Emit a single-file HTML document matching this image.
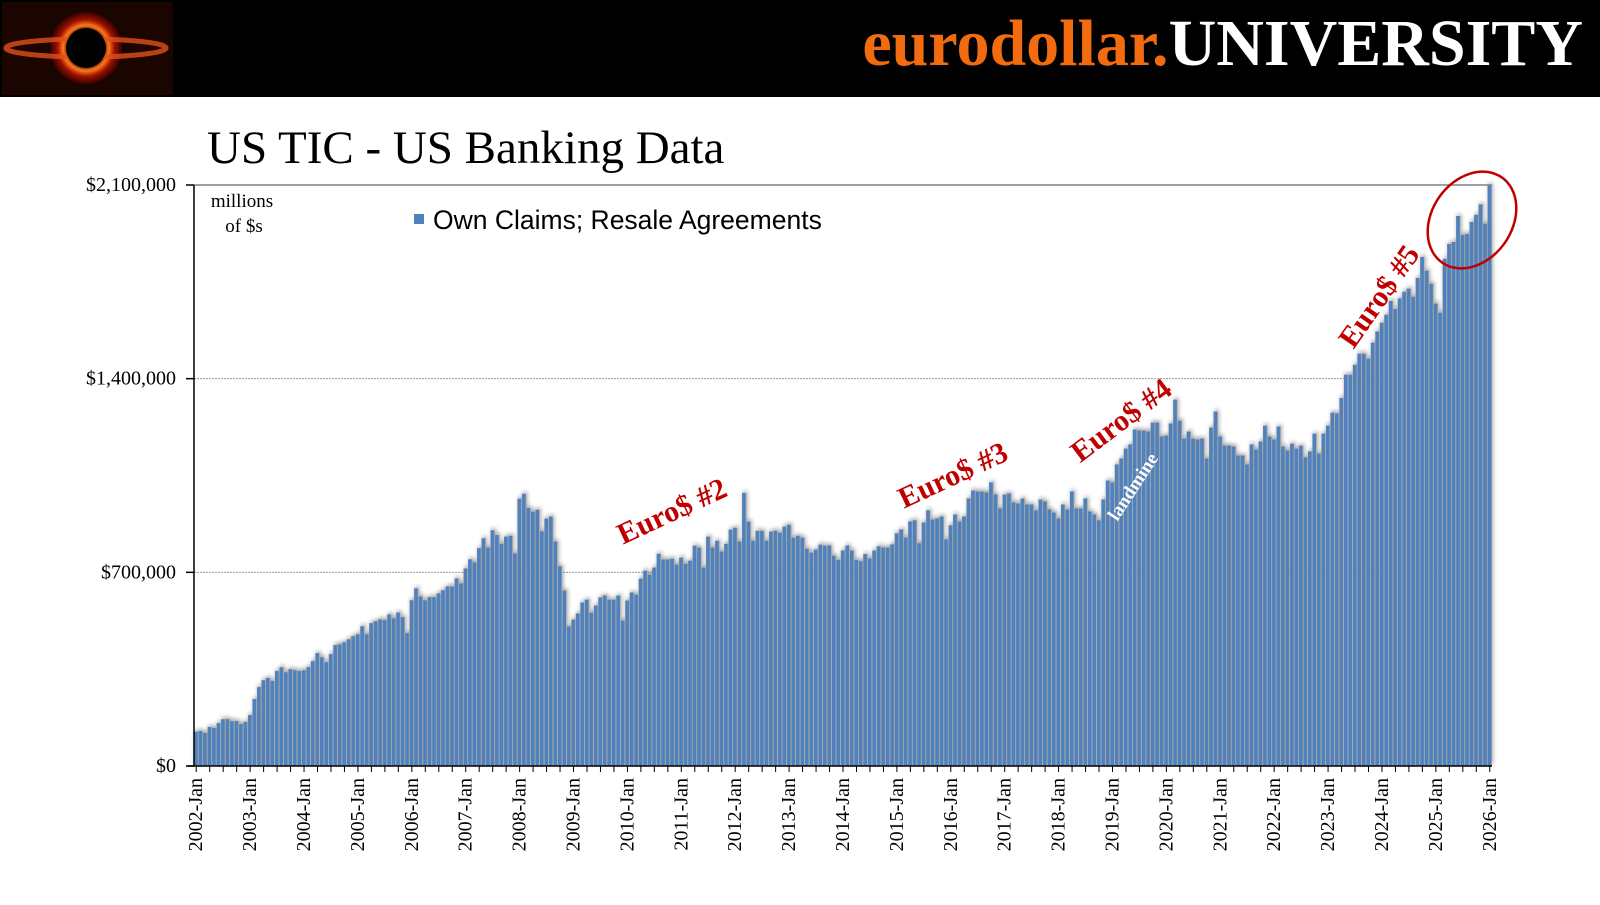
<!DOCTYPE html>
<html><head><meta charset="utf-8"><style>
body{margin:0;width:1600px;height:900px;background:#fff;overflow:hidden;font-family:"Liberation Serif",serif}
</style></head><body>
<svg width="1600" height="900" xmlns="http://www.w3.org/2000/svg">
<defs>
<radialGradient id="lg" cx="50%" cy="50%" r="50%">
<stop offset="0" stop-color="#000"/><stop offset="0.45" stop-color="#200"/><stop offset="0.6" stop-color="#ff7a1a"/><stop offset="0.75" stop-color="#a01000"/><stop offset="1" stop-color="#120000"/></radialGradient>
<filter id="sh" x="-20%" y="-5%" width="140%" height="110%"><feGaussianBlur in="SourceAlpha" stdDeviation="2"/><feOffset dx="1" dy="-2"/><feComponentTransfer><feFuncA type="linear" slope="0.35"/></feComponentTransfer><feMerge><feMergeNode/><feMergeNode in="SourceGraphic"/></feMerge></filter>
</defs>
<rect x="0" y="0" width="1600" height="97" fill="#000"/>
<g>
<rect x="2" y="2" width="171" height="93" fill="#1a0500"/>
<ellipse cx="86" cy="48" rx="38" ry="38" fill="url(#lg)"/>
<ellipse cx="86" cy="48" rx="80" ry="9" fill="none" stroke="#e0501a" stroke-width="5" opacity="0.8"/>
<ellipse cx="86" cy="48" rx="20" ry="20" fill="#000"/>
</g>
<text x="1583" y="65" text-anchor="end" font-family="Liberation Serif, serif" font-weight="bold" font-size="66"><tspan fill="#f26b0f">eurodollar.</tspan><tspan fill="#fff">UNIVERSITY</tspan></text>
<text x="207" y="163" font-family="Liberation Serif, serif" font-size="47" fill="#000">US TIC - US Banking Data</text>
<text x="242" y="207" text-anchor="middle" font-size="19">millions</text>
<text x="244" y="232" text-anchor="middle" font-size="19">of $s</text>
<rect x="414" y="214" width="10" height="10" fill="#4f81bd"/>
<text x="433" y="229" font-family="Liberation Sans, sans-serif" font-size="26.5">Own Claims; Resale Agreements</text>
<g id="grid"></g>
<g id="bars" filter="url(#sh)"></g>
<g id="axes"></g>
<g font-family="Liberation Serif, serif" font-weight="bold" fill="#c00000">
<text transform="translate(676,520) rotate(-25)" text-anchor="middle" font-size="30">Euro$ #2</text>
<text transform="translate(957,484) rotate(-25)" text-anchor="middle" font-size="30">Euro$ #3</text>
<text transform="translate(1127,428) rotate(-37)" text-anchor="middle" font-size="30">Euro$ #4</text>
<text transform="translate(1387,302) rotate(-55)" text-anchor="middle" font-size="30">Euro$ #5</text>
<text transform="translate(1138,490) rotate(-57)" text-anchor="middle" font-size="19" fill="#fff">landmine</text>
<ellipse cx="1472" cy="220" rx="40" ry="52" transform="rotate(35 1472 220)" fill="none" stroke="#c00000" stroke-width="2.5"/>
</g>
</svg>
<script>
const yTickValues=[0,700000,1400000,2100000];
const yTickLabels=["$0","$700,000","$1,400,000","$2,100,000"];
const yearLabels=["2002-Jan","2003-Jan","2004-Jan","2005-Jan","2006-Jan","2007-Jan","2008-Jan","2009-Jan","2010-Jan","2011-Jan","2012-Jan","2013-Jan","2014-Jan","2015-Jan","2016-Jan","2017-Jan","2018-Jan","2019-Jan","2020-Jan","2021-Jan","2022-Jan","2023-Jan","2024-Jan","2025-Jan","2026-Jan"];
const values=[
124,126,119,141,137,155,169,169,162,162,152,159,
184,242,285,310,318,307,343,357,339,350,346,343,
346,357,379,408,393,375,404,437,440,447,458,469,
476,505,476,516,523,530,527,548,534,555,538,480,
599,642,613,599,610,610,624,635,649,649,678,660,
714,747,736,787,823,790,852,835,803,829,832,768,
966,984,933,919,926,848,894,901,811,722,634,504,
529,551,591,601,554,580,609,616,601,601,616,526,
598,627,619,677,706,692,717,767,746,746,749,728,
753,731,742,796,789,717,829,789,814,775,803,854,
861,811,987,883,814,850,850,814,847,850,843,865,
872,825,832,825,785,771,782,800,796,797,760,745,
779,797,779,745,740,766,750,779,794,790,790,801,
841,855,826,884,888,805,880,924,891,895,902,819,
870,909,884,902,967,996,992,992,989,1025,981,931,
981,985,953,949,967,945,945,924,963,956,927,916,
895,945,927,992,931,931,967,920,909,888,963,1032,
1025,1090,1111,1147,1162,1216,1212,1212,1209,1241,1241,1191,
1194,1238,1324,1248,1183,1209,1183,1180,1183,1111,1223,1281,
1191,1158,1158,1155,1122,1122,1090,1162,1144,1173,1230,1191,
1180,1227,1155,1140,1165,1147,1158,1115,1137,1201,1129,1201,
1230,1277,1274,1330,1414,1414,1450,1490,1490,1472,1530,1570,
1602,1631,1681,1652,1690,1714,1725,1696,1764,1840,1790,1743,
1671,1638,1833,1887,1894,1988,1919,1923,1966,1992,2030,1960,
2100];
const NS="http://www.w3.org/2000/svg";
const X0=194,X1=1492,Y0=766,YT=185,YMAX=2100000;
const n=values.length, slot=(X1-X0)/n;
function xPos(i){return X0+i*slot;}
function yPos(v){return Y0-(v/YMAX)*(Y0-YT);}
function mk(tag,attrs,parent){const e=document.createElementNS(NS,tag);for(const k in attrs)e.setAttribute(k,attrs[k]);parent.appendChild(e);return e;}
const grid=document.getElementById('grid'),bars=document.getElementById('bars'),axes=document.getElementById('axes');
yTickValues.forEach((v,i)=>{
  const y=yPos(v);
  if(v>0&&v<YMAX){const l=mk('line',{x1:X0,x2:X1,y1:y,y2:y,stroke:'#999','stroke-width':1,'stroke-dasharray':'2,1'},grid);
  
  }
  const t=mk('text',{x:X0-18,y:y+6,'text-anchor':'end','font-size':20,'font-family':'Liberation Serif, serif'},axes);
  t.textContent=yTickLabels[i];
  
  
  const tk=mk('line',{x1:X0-8,x2:X0,y1:y,y2:y,stroke:'#000','stroke-width':1.5},axes);
  
  
});
values.forEach((v,i)=>{
  const x=xPos(i),y=yPos(v*1000);
  const g=mk('rect',{x:x,y:y,width:slot,height:Y0-y,fill:'#a6a6a6'},bars);
  
  
  const r=mk('rect',{x:x+0.2,y:y,width:slot*0.78,height:Y0-y,fill:'#4f81bd'},bars);
  
  
});
const topBorder=mk('line',{x1:X0,x2:X1,y1:YT,y2:YT,stroke:'#808080','stroke-width':1.5},axes);


const leftAxis=mk('line',{x1:X0,x2:X0,y1:YT,y2:Y0,stroke:'#000','stroke-width':1.5},axes);


const bottomAxis=mk('line',{x1:X0-6,x2:X1,y1:Y0,y2:Y0,stroke:'#000','stroke-width':1.5},axes);


for(let i=0;i<n;i+=3){
  const x=xPos(i)+slot/2;
  const tk=mk('line',{x1:x,x2:x,y1:Y0,y2:Y0+6,stroke:'#000','stroke-width':1},axes);
  
  
}
yearLabels.forEach((lab,k)=>{
  const x=xPos(k*12)+slot/2;
  const t=mk('text',{transform:`translate(${x+6},${Y0+12}) rotate(-90)`,'text-anchor':'end','font-size':20,'font-family':'Liberation Serif, serif'},axes);
  t.textContent=lab;
  
  
});
</script>
</body></html>
